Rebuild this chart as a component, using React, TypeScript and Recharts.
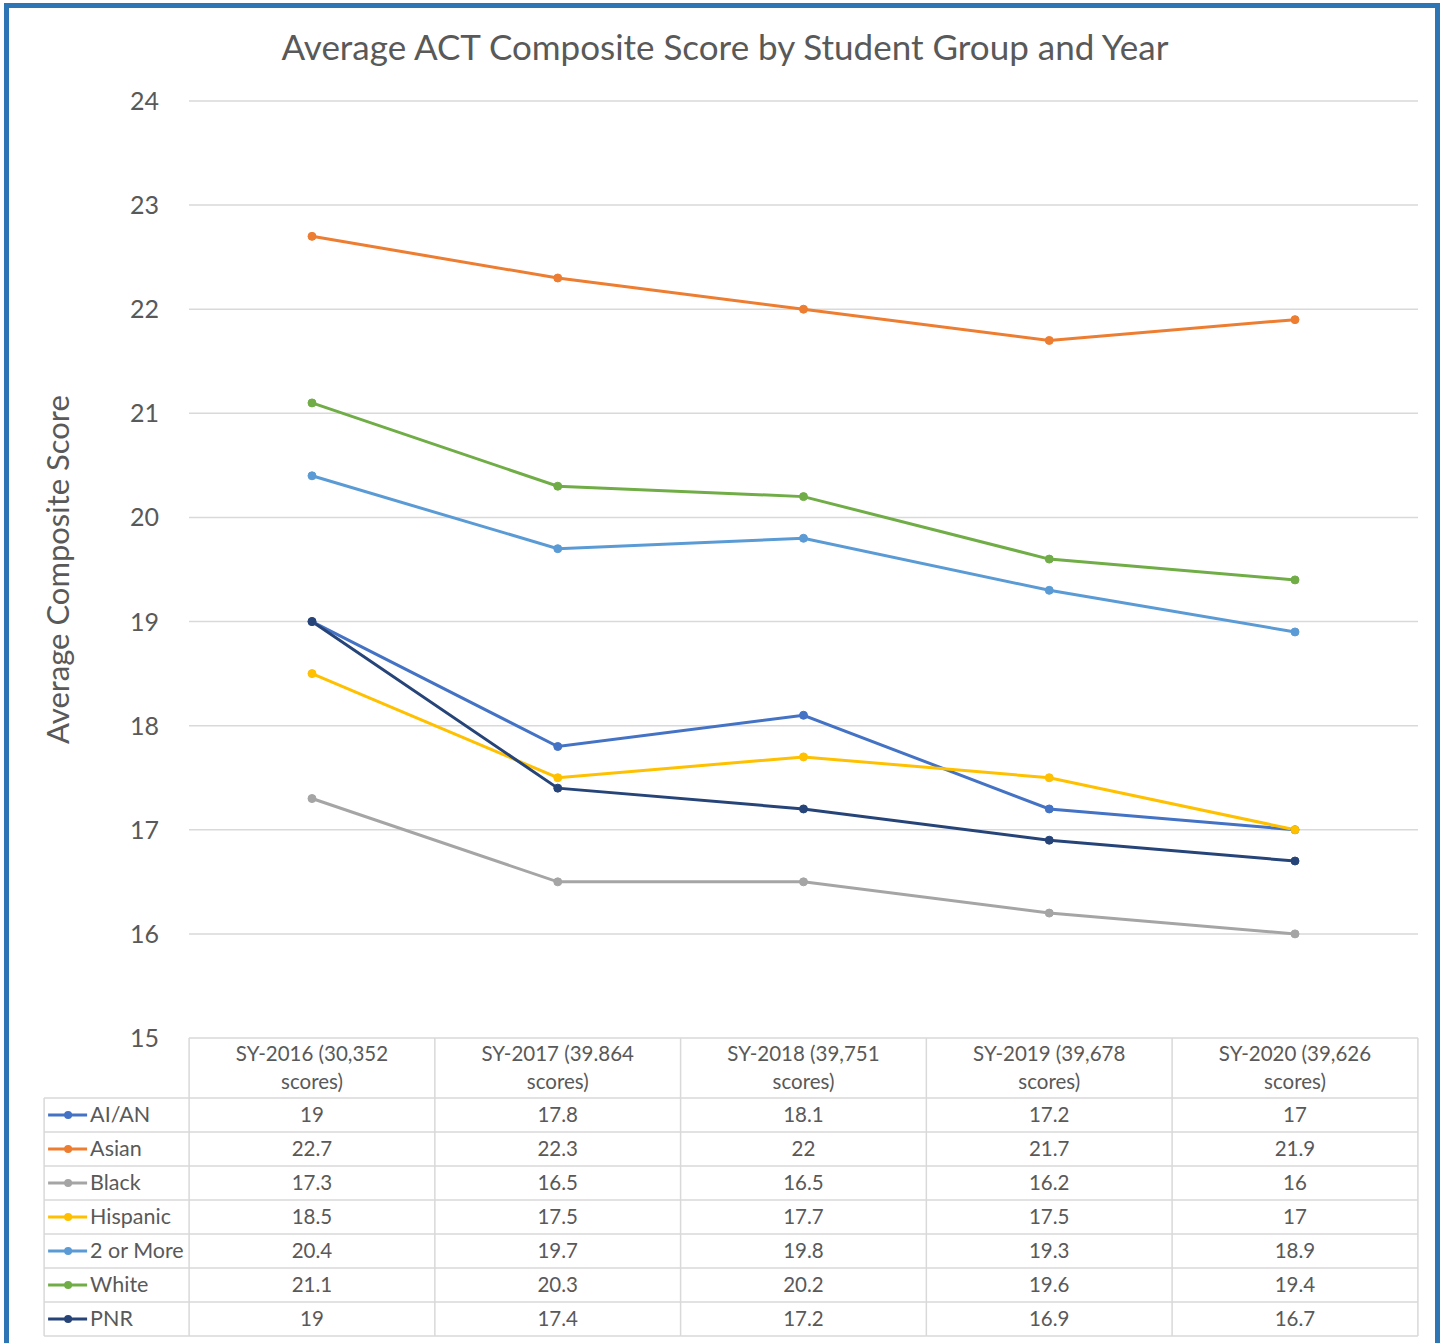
import React from "react";
import { LineChart, Line, XAxis, YAxis, CartesianGrid } from "recharts";

const yearLabels = [
  "SY-2016 (30,352 scores)",
  "SY-2017 (39.864 scores)",
  "SY-2018 (39,751 scores)",
  "SY-2019 (39,678 scores)",
  "SY-2020 (39,626 scores)",
];

const aian = [19, 17.8, 18.1, 17.2, 17];
const asian = [22.7, 22.3, 22, 21.7, 21.9];
const black = [17.3, 16.5, 16.5, 16.2, 16];
const hispanic = [18.5, 17.5, 17.7, 17.5, 17];
const twoOrMore = [20.4, 19.7, 19.8, 19.3, 18.9];
const white = [21.1, 20.3, 20.2, 19.6, 19.4];
const pnr = [19, 17.4, 17.2, 16.9, 16.7];

const yTicks = [15, 16, 17, 18, 19, 20, 21, 22, 23, 24];

const series = [
  { key: "aian", name: "AI/AN", color: "#4472C4", values: aian },
  { key: "asian", name: "Asian", color: "#ED7D31", values: asian },
  { key: "black", name: "Black", color: "#A5A5A5", values: black },
  { key: "hispanic", name: "Hispanic", color: "#FFC000", values: hispanic },
  { key: "twoOrMore", name: "2 or More", color: "#5B9BD5", values: twoOrMore },
  { key: "white", name: "White", color: "#70AD47", values: white },
  { key: "pnr", name: "PNR", color: "#264478", values: pnr },
];

const data = yearLabels.map((year, i) => {
  const row: Record<string, string | number> = { year };
  series.forEach((s) => {
    row[s.key] = s.values[i];
  });
  return row;
});

const FONT = "Lato, 'Open Sans', sans-serif";
const TEXT = "#595959";
const GRID = "#d9d9d9";
const PLOT_W = 1229;
const BAND = PLOT_W / yearLabels.length;
const HEAD_H = 60;
const ROW_H = 34;
const LEGEND_W = 145;

function TableTick(props: any) {
  const { x, y, payload } = props;
  const i = payload.index;
  const label: string = payload.value;
  const cut = label.lastIndexOf(" ");
  const left = x - BAND / 2;
  const right = x + BAND / 2;
  const top = y + HEAD_H;
  const bottom = top + ROW_H * series.length;
  const txt = { fontFamily: FONT, fontSize: 20.5, fill: TEXT, textAnchor: "middle" as const };
  return (
    <g>
      <line x1={left} y1={y} x2={left} y2={bottom} stroke={GRID} strokeWidth={1.5} />
      {i === yearLabels.length - 1 && (
        <line x1={right} y1={y} x2={right} y2={bottom} stroke={GRID} strokeWidth={1.5} />
      )}
      <text x={x} y={y + 23} {...txt}>{label.slice(0, cut)}</text>
      <text x={x} y={y + 51} {...txt}>{label.slice(cut + 1)}</text>
      {series.map((s, r) => (
        <g key={s.key}>
          <line x1={left} y1={top + ROW_H * r} x2={right} y2={top + ROW_H * r} stroke={GRID} strokeWidth={1.5} />
          <text x={x} y={top + ROW_H * r + 24} {...txt}>{s.values[i]}</text>
        </g>
      ))}
      <line x1={left} y1={bottom} x2={right} y2={bottom} stroke={GRID} strokeWidth={1.5} />
      {i === 0 && (
        <g>
          <line x1={left - LEGEND_W} y1={top} x2={left - LEGEND_W} y2={bottom} stroke={GRID} strokeWidth={1.5} />
          {series.map((s, r) => {
            const ry = top + ROW_H * r;
            const kx = left - LEGEND_W;
            return (
              <g key={s.key}>
                <line x1={kx} y1={ry} x2={left} y2={ry} stroke={GRID} strokeWidth={1.5} />
                <line x1={kx + 4} y1={ry + 17} x2={kx + 43} y2={ry + 17} stroke={s.color} strokeWidth={3} />
                <circle cx={kx + 24} cy={ry + 17} r={4} fill={s.color} />
                <text x={kx + 46} y={ry + 24} fontFamily={FONT} fontSize={21.5} fill={TEXT}>{s.name}</text>
              </g>
            );
          })}
          <line x1={left - LEGEND_W} y1={bottom} x2={left} y2={bottom} stroke={GRID} strokeWidth={1.5} />
        </g>
      )}
    </g>
  );
}

function ValueTick(props: any) {
  const { x, y, payload } = props;
  return (
    <text x={x - 30} y={y + 9} textAnchor="end" fontFamily={FONT} fontSize={25} fill={TEXT}>
      {payload.value}
    </text>
  );
}

function AxisTitle(props: any) {
  const vb = props.viewBox;
  const cy = vb.y + vb.height / 2;
  const cx = 57;
  return (
    <text x={cx} y={cy} transform={`rotate(-90 ${cx} ${cy})`} textAnchor="middle" dominantBaseline="central"
      fontFamily={FONT} fontSize={31} fill={TEXT}>
      Average Composite Score
    </text>
  );
}

export default function App() {
  return (
    <div style={{ position: "absolute", left: 0, top: 0, width: 1447, height: 1343, overflow: "hidden", background: "#fff" }}>
      <div style={{ position: "absolute", left: 4, top: 3, width: 1426, height: 1400, border: "5px solid #2E75B6" }} />
      <div style={{ position: "absolute", left: 0, top: 25, width: 1450, textAlign: "center", fontFamily: FONT, fontSize: 35, color: TEXT }}>
        Average ACT Composite Score by Student Group and Year
      </div>
      <div style={{ position: "absolute", left: 0, top: 0 }}>
        <LineChart width={1447} height={1343} data={data} margin={{ top: 101, right: 29, bottom: 0, left: 0 }}>
          <CartesianGrid horizontal vertical={false} stroke={GRID} strokeWidth={1.5} />
          <XAxis dataKey="year" height={305} interval={0} padding={{ left: 123, right: 123 }}
            axisLine={false} tickLine={false} tickSize={0} tickMargin={0} tick={<TableTick />} />
          <YAxis domain={[15, 24]} ticks={yTicks} width={189} axisLine={false} tickLine={false}
            tickSize={0} tickMargin={0} tick={<ValueTick />} label={<AxisTitle />} />
          {series.map((s) => (
            <Line key={s.key} dataKey={s.key} name={s.name} stroke={s.color} strokeWidth={3}
              dot={{ r: 4, fill: s.color, stroke: s.color, strokeWidth: 1 }} isAnimationActive={false} />
          ))}
        </LineChart>
      </div>
    </div>
  );
}
